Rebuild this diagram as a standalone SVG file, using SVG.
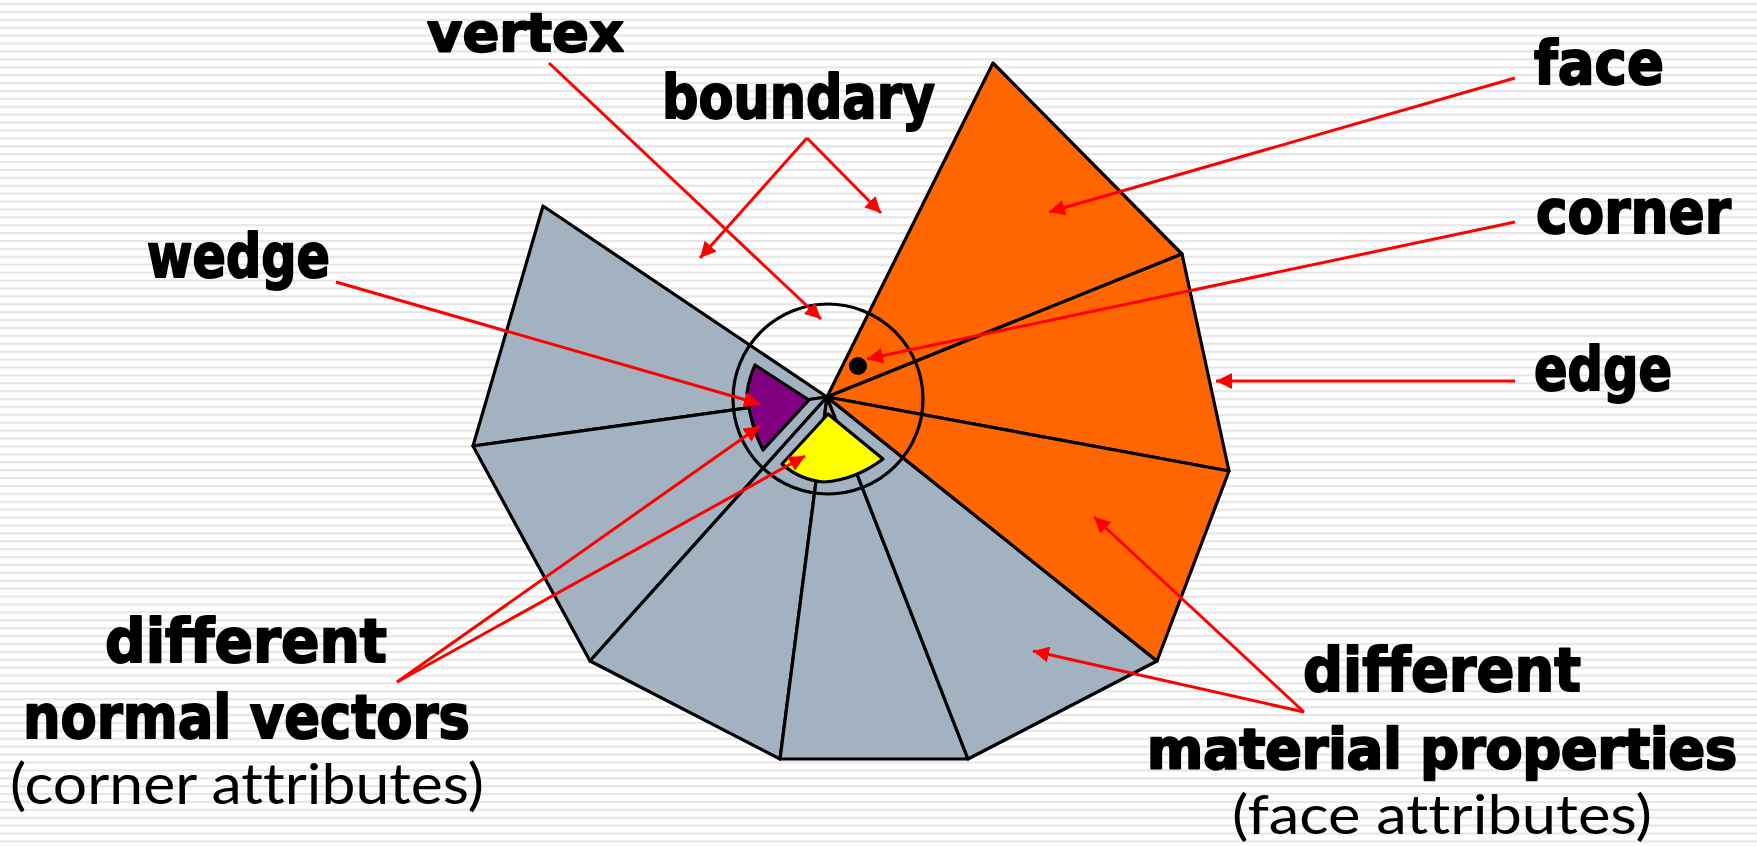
<svg xmlns="http://www.w3.org/2000/svg" width="1757" height="846" viewBox="0 0 1757 846">
<style>
text{font-variant-ligatures:none}
.b{font-family:"DejaVu Sans","Lato","Liberation Sans",sans-serif;font-weight:700;font-size:60px;fill:#000;stroke:#000;stroke-width:2;stroke-linejoin:round}
.n{font-family:"Lato","Open Sans","Liberation Sans",sans-serif;font-weight:400;font-size:56px;fill:#000}
.f{stroke:#000;stroke-width:3.2;stroke-linejoin:round}
.l{fill:none;stroke:#000;stroke-width:3.2}
.r{fill:none;stroke:#f00;stroke-width:3;marker-end:url(#a)}
</style>
<defs>
<pattern id="s" width="8" height="7.9" patternUnits="userSpaceOnUse">
<rect width="8" height="7.9" fill="#fff"/>
<rect y="3" width="8" height="2.2" fill="#e6e6e6"/>
</pattern>
<marker id="a" markerUnits="userSpaceOnUse" markerWidth="17" markerHeight="16" refX="16" refY="8" orient="auto">
<path d="M0 0L16 8L0 16Z" fill="#f00"/>
</marker>
</defs>
<rect id="background" width="1757" height="846" fill="url(#s)"/>
<g id="gray-faces">
<path class="f" fill="#a2b2c1" d="M827 397L543 206L473 446Z"/>
<path class="f" fill="#a2b2c1" d="M827 397L473 446L590 661Z"/>
<path class="f" fill="#a2b2c1" d="M827 397L590 661L780 759Z"/>
<path class="f" fill="#a2b2c1" d="M827 397L780 759H968Z"/>
<path class="f" fill="#a2b2c1" d="M827 397L968 759L1157 661Z"/>
</g>
<g id="orange-faces">
<path class="f" fill="#f60" d="M827 397L993 63L1182 254Z"/>
<path class="f" fill="#f60" d="M827 397L1182 254L1229 471Z"/>
<path class="f" fill="#f60" d="M827 397L1229 471L1157 661Z"/>
</g>
<g id="vertex-circle"><circle class="l" cx="828" cy="399" r="95"/></g>
<g id="wedge-purple"><path class="f" fill="#800080" d="M755 365L809 400L763 450Q750 425 747 393Q749 378 755 365Z"/></g>
<g id="wedge-yellow"><path class="f" fill="#ff0" d="M828 414L883 459Q855 480 824 482Q800 480 782 464Z"/></g>
<g id="corner-dot"><circle cx="858" cy="366" r="9" fill="#000"/></g>
<g id="connectors">
<path class="r" d="M549 63L821 319"/>
<path class="r" d="M807 138L700 258"/>
<path class="r" d="M807 138L881 213"/>
<path class="r" d="M1515 78L1049 212"/>
<path class="r" d="M1515 222L867 359"/>
<path class="r" d="M1515 381H1216"/>
<path class="r" d="M336 282L760 404"/>
<path class="r" d="M397 682L760 426"/>
<path class="r" d="M397 682L805 456"/>
<path class="r" d="M1304 712L1033 651"/>
<path class="r" d="M1304 712L1094 517"/>
</g>
<g id="labels">
<text class="b" x="427" y="51" style="font-size:54px" textLength="197" lengthAdjust="spacingAndGlyphs">vertex</text>
<text class="b" x="662" y="118" textLength="273" lengthAdjust="spacingAndGlyphs">boundary</text>
<text class="b" x="1534" y="84" textLength="130" lengthAdjust="spacingAndGlyphs">face</text>
<text class="b" x="1536" y="233" textLength="195" lengthAdjust="spacingAndGlyphs">corner</text>
<text class="b" x="1534" y="390" textLength="138" lengthAdjust="spacingAndGlyphs">edge</text>
<text class="b" x="147" y="277" textLength="183" lengthAdjust="spacingAndGlyphs">wedge</text>
<text class="b" x="105" y="662" textLength="282" lengthAdjust="spacingAndGlyphs">different</text>
<text class="b" x="23" y="738" textLength="447" lengthAdjust="spacingAndGlyphs">normal vectors</text>
<text class="n" x="10" y="804" textLength="474" lengthAdjust="spacingAndGlyphs">(corner attributes)</text>
<text class="b" x="1303" y="691" textLength="278" lengthAdjust="spacingAndGlyphs">different</text>
<text class="b" x="1147" y="768" style="font-size:55px;stroke-width:2.4" textLength="590" lengthAdjust="spacingAndGlyphs">material properties</text>
<text class="n" x="1232" y="834" style="font-size:54px" textLength="420" lengthAdjust="spacingAndGlyphs">(face attributes)</text>
</g>
</svg>
